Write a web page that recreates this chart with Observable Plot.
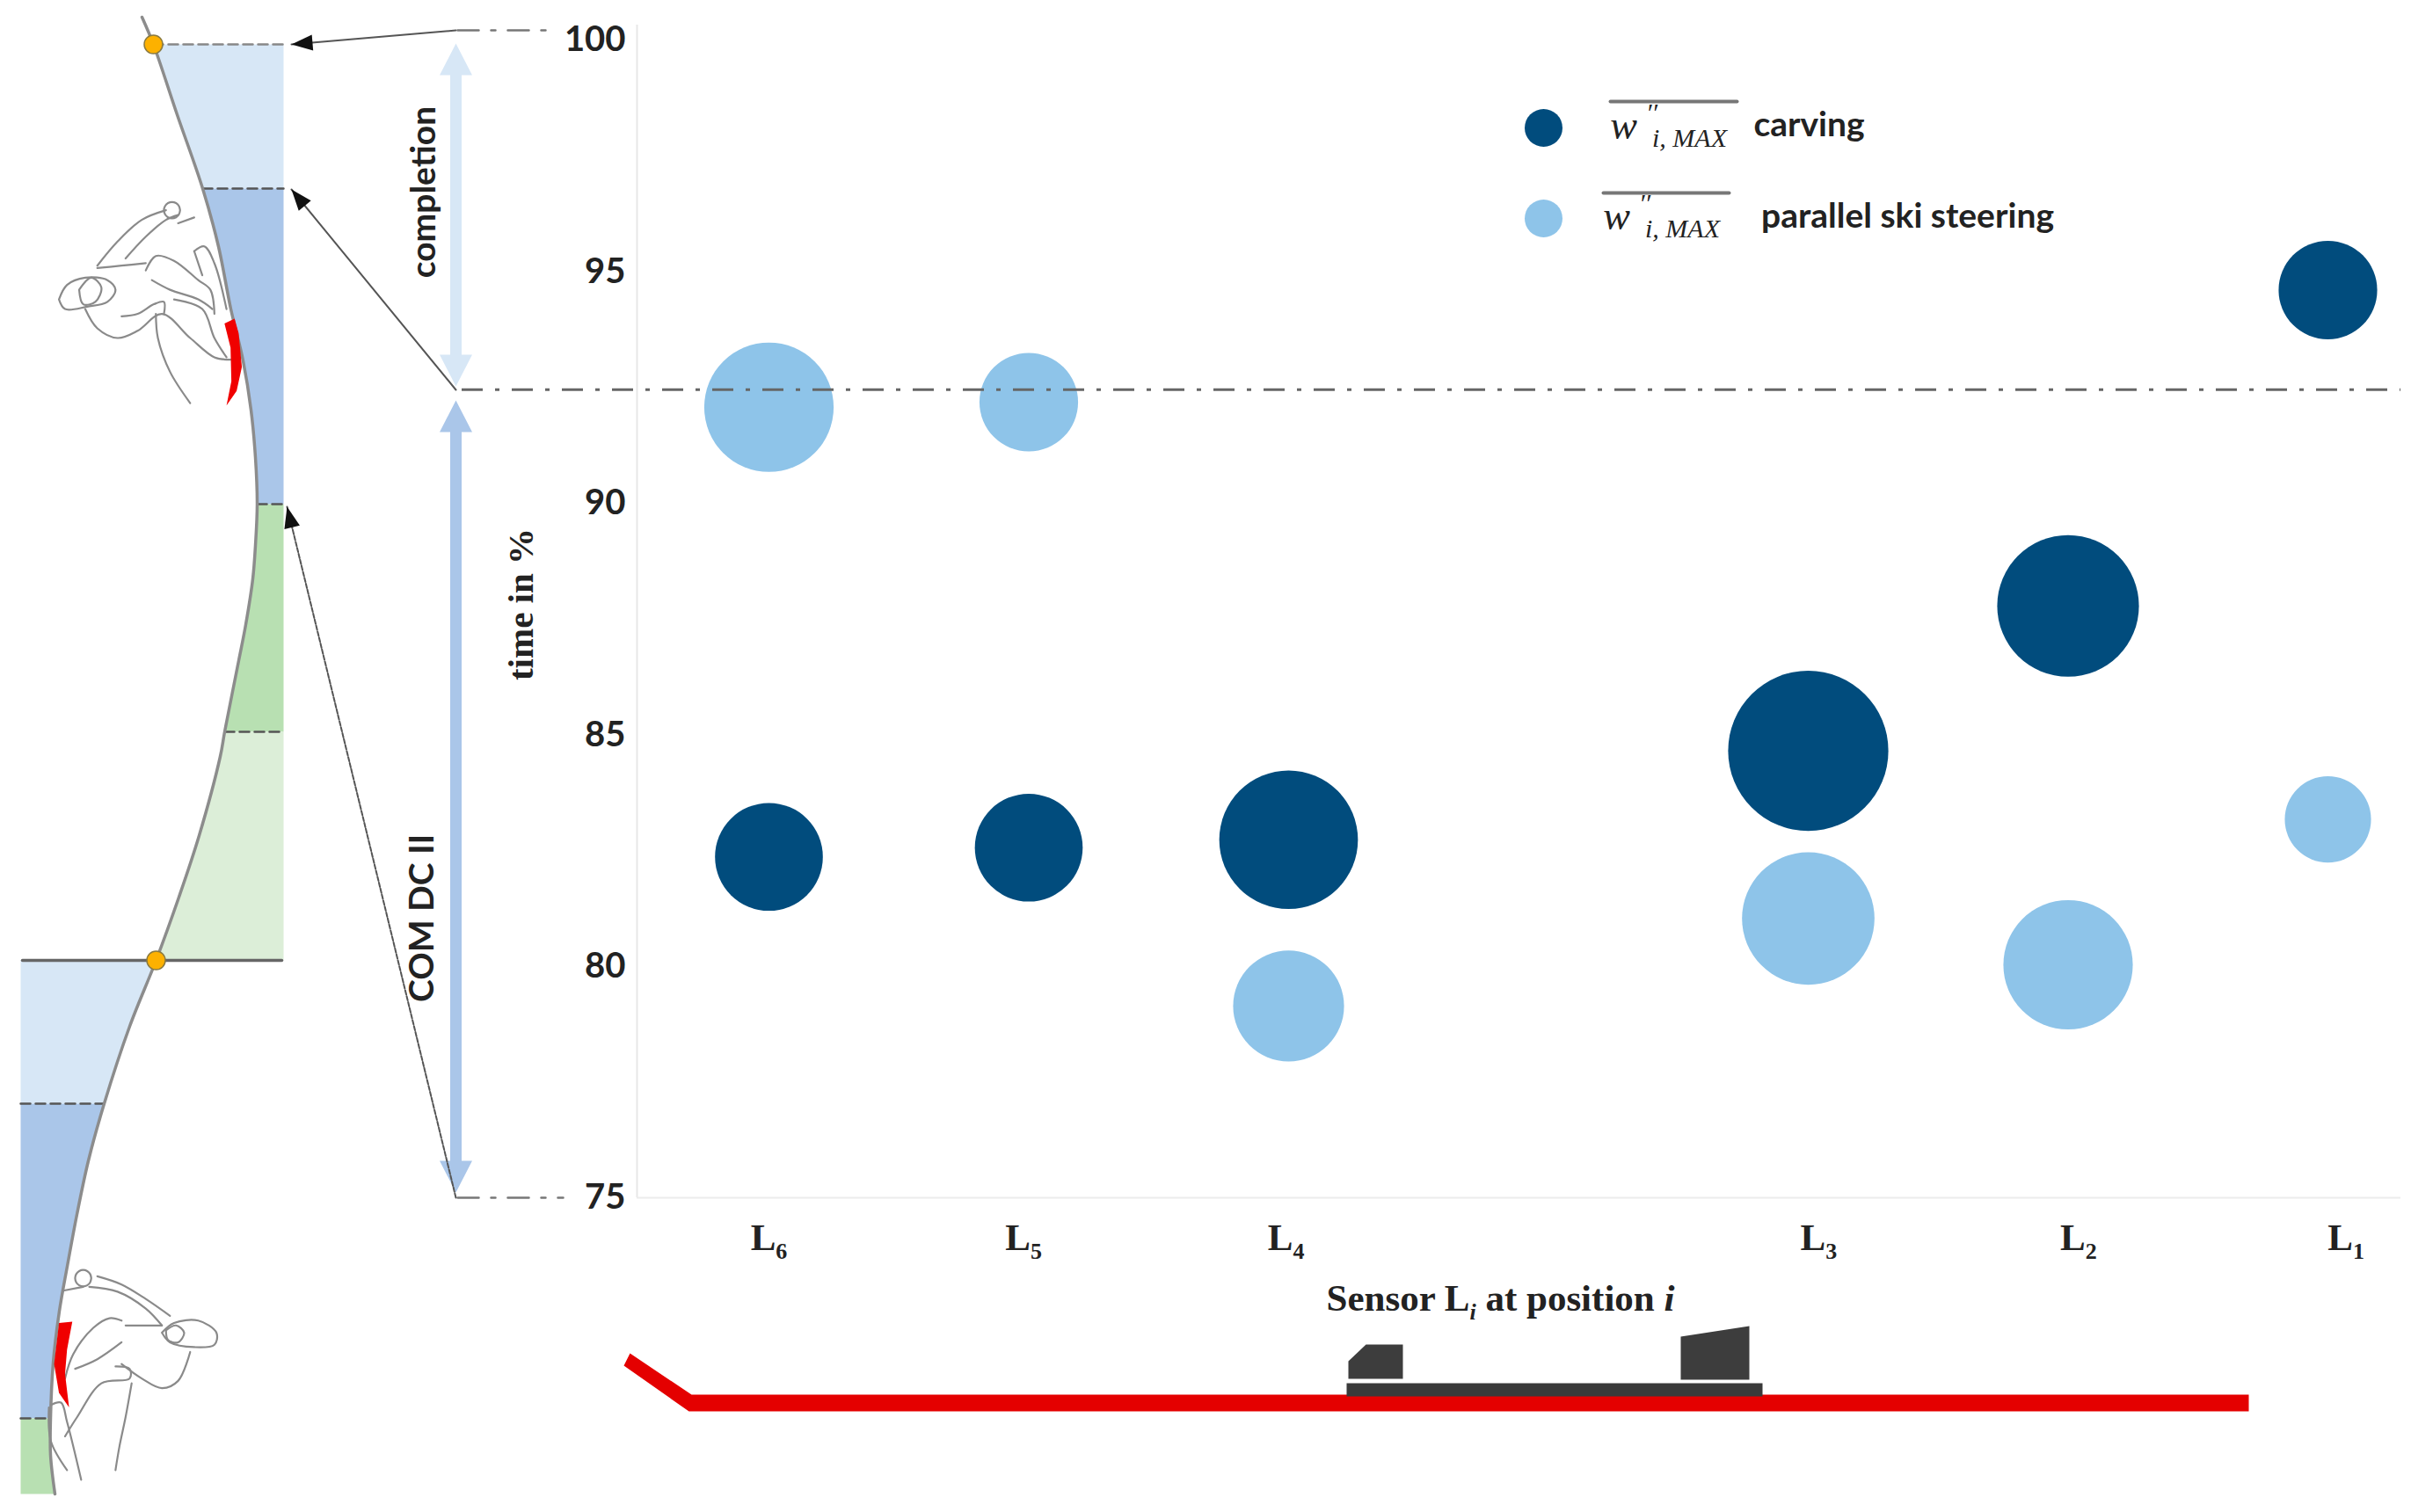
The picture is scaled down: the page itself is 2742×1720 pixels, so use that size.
<!DOCTYPE html>
<html><head><meta charset="utf-8">
<script src="https://cdn.jsdelivr.net/npm/d3@7"></script>
<script src="https://cdn.jsdelivr.net/npm/@observablehq/plot@0.6"></script>
<style>html,body{margin:0;background:#fff}svg{display:block;max-width:none!important}</style>
</head><body><div id="c"></div><script>
// --- chart data ---
const sensors = ["L_6","L_5","L_4","L_3","L_2","L_1"];
const sensorPos = [1,2,3,5,6,7];
const sensorLabelPos = [1,1.98,2.99,5.04,6.04,7.07];
const carvingTime = [82.36,82.56,82.73,84.65,87.78,94.6];
const carvingW = [35,35,45,52,46,32];
const steeringTime = [92.07,92.18,79.14,81.03,80.03,83.17];
const steeringW = [42,32,36,43,42,28];
const yTicks = [75,80,85,90,95,100];
const phaseBoundary = 92.45;
const DARK="#014c7d", LIGHT="#8ec4e9", INK="#222";
const SANS="Lato, Carlito, sans-serif", SERIF="'Liberation Serif', serif";

// frame constants, and their inverse for annotation sketches placed on the page
const xDom=[1,7], xRng=[874,2647], yDom=[75,100], yRng=[1362,45];
const invX=d3.scaleLinear().domain(xRng).range(xDom), invY=d3.scaleLinear().domain(yRng).range(yDom);
const P=([x,y])=>({x:invX(x),y:invY(y)});
const line=(pts,o={})=>Plot.line(pts.map(P),{x:"x",y:"y",stroke:"#888",strokeWidth:2.5,...o});
const poly=(pts,fill)=>Plot.line(pts.map(P),{x:"x",y:"y",fill,stroke:"none"});
const label=(t,x,y,o={})=>Plot.text([t],{x:invX(x),y:invY(y),text:d=>d,fill:INK,fontFamily:SANS,fontWeight:700,fontSize:39,...o});

// --- slope illustration (page pixels) ---
const slope=[[161,19],[174,50],[201,130],[230,214],[248,280],[262,351],[276,410],[285,466],[290,520],[292,573],[290,620],[287,658],[279,710],[271,751],[255,832],[250,860],[226,950],[203,1020],[177,1092],[147,1167],[118,1255],[100,1320],[87,1381],[76,1440],[67,1491],[60,1550],[57,1613],[57,1655],[62,1699]];
const seg=(a,b)=>slope.filter(p=>p[1]>=a&&p[1]<=b);
const band=(a,b,edge,fill)=>poly([...seg(a,b),[edge,b],[edge,a]],fill);
const bands=[[50,214,322,"#d7e7f6"],[214,573,322,"#aac6e9"],[573,832,322,"#b8e0b2"],[832,1092,322,"#dceed8"],[1092,1255,23,"#d7e7f6"],[1255,1613,23,"#aac6e9"],[1613,1699,23,"#b8e0b2"]];
const dashes=[[174,322,50,"#888"],[230,322,214,"#555"],[292,322,573,"#555"],[255,322,832,"#555"],[23,118,1255,"#555"],[23,57,1613,"#555"]];

const z1=(a)=>a.map(([x,y])=>[x/2.178,y/1.823]);
const z2=(a)=>a.map(([x,y])=>[x/2.178,860+y/1.823]);
const circ=(cx,cy,r)=>d3.range(0,13).map(i=>[cx+r*Math.cos(i*Math.PI/6),cy+r*.85*Math.sin(i*Math.PI/6)]);
const skierTop=[
 [[145,620],[165,590],[210,575],[265,580],[285,600],[265,625],[215,635],[160,640],[145,620]],
 [[195,600],[225,575],[250,595],[235,625],[205,630],[195,600]],
 [[240,550],[290,500],[350,455],[410,435]],[[310,535],[360,490],[410,455],[440,445]],
 circ(425,435,20),[[440,462],[480,450]],[[240,555],[300,550],[360,545]],
 [[360,560],[385,530],[430,540],[490,580],[520,600],[530,650]],
 [[480,520],[505,510],[530,545],[560,640]],[[480,520],[500,570]],
 [[210,640],[240,680],[290,700],[340,685],[400,650],[470,700],[530,740],[570,745]],
 [[385,650],[390,700],[420,770],[470,835]],[[300,655],[340,650],[380,630],[405,625],[405,650]],
 [[375,580],[420,600],[490,620],[525,640]],[[430,620],[500,640],[530,700],[560,740]]].map(z1);
const skierBottom=[
 [[400,1195],[430,1175],[490,1170],[535,1195],[530,1220],[480,1225],[420,1215],[400,1195]],
 [[410,1190],[435,1180],[455,1195],[440,1215],[415,1210],[410,1190]],
 [[240,1078],[300,1095],[360,1125],[420,1160]],[[220,1100],[290,1110],[360,1145],[400,1180]],
 circ(205,1082,20),[[155,1108],[205,1100]],
 [[300,1170],[270,1165],[230,1185],[180,1240],[160,1290]],
 [[470,1235],[440,1295],[400,1310],[350,1290],[300,1260]],[[400,1180],[310,1180]],
 [[325,1300],[310,1370],[295,1430],[285,1480]],[[285,1265],[320,1270],[320,1290],[250,1300],[190,1370],[160,1410]],
 [[300,1215],[240,1250],[185,1270]],[[125,1345],[150,1340],[165,1380],[200,1500]],[[120,1350],[125,1420],[165,1480]]].map(z2);
const skiTop=z1([[555,670],[580,660],[590,690],[598,760],[585,810],[560,840],[572,790],[570,720]]);
const skiBottom=z2([[145,1175],[178,1172],[165,1230],[160,1280],[170,1350],[145,1320],[133,1260]]);

// double arrows & leaders
const dbl=(x,y0,y1,fill,sw=6.5,hw=18.5,hl=36)=>poly([[x,y0],[x+hw,y0+hl],[x+sw,y0+hl],[x+sw,y1-hl],[x+hw,y1-hl],[x,y1],[x-hw,y1-hl],[x-sw,y1-hl],[x-sw,y0+hl],[x-hw,y0+hl]],fill);
const head=(from,to,l=24,w=9)=>{const dx=to[0]-from[0],dy=to[1]-from[1],n=Math.hypot(dx,dy),u=dx/n,v=dy/n;
  return poly([to,[to[0]-u*l-v*w,to[1]-v*l+u*w],[to[0]-u*l+v*w,to[1]-v*l-u*w]],"#111");};
const leaders=[[[518,34],[331,50]],[[518,443],[331,215]],[[518,1362],[326,576]]];
const dd="24,14,5,14";

// ski & binding
const ski=[[709,1553],[716,1539],[786,1586],[2557,1586],[2557,1605],[783,1605]];
const plate=[[1531,1573],[2004,1573],[2004,1588],[1531,1588]];
const toe=[[1533,1548],[1553,1529],[1595,1529],[1595,1568],[1533,1568]];
const heel=[[1911,1520],[1989,1508],[1989,1569],[1911,1569]];

const plot=Plot.plot({
 width:2742,height:1720,margin:0,marginLeft:724,
 style:{background:"#fff",fontFamily:SANS,overflow:"visible"},
 x:{domain:xDom,range:xRng,axis:null},
 y:{domain:yDom,range:yRng,axis:null},
 r:{type:"linear",domain:[0,100],range:[0,175.2]},
 marks:[
  ...bands.map(b=>band(...b)),
  ...dashes.map(([a,b,y,c])=>line([[a,y],[b,y]],{stroke:c,strokeWidth:2.5,strokeDasharray:"11,6"})),
  line([[25,1092],[320,1092]],{stroke:"#666",strokeWidth:3.5}),
  line(slope,{stroke:"#8c8c8c",strokeWidth:3.5,curve:"catmull-rom"}),
  ...[[174,50],[177,1092]].map(p=>Plot.dot([P(p)],{x:"x",y:"y",r:10.5,fill:"#fdb100",stroke:"#8a7a40",strokeWidth:1.5})),
  ...skierTop.concat(skierBottom).map(s=>line(s,{curve:"catmull-rom",stroke:"#8a8a8a",strokeWidth:2.2})),
  poly(skiTop,"#f00000"),poly(skiBottom,"#f00000"),

  // leaders and phase arrows
  dbl(518,49,439,"#d7e7f6"),dbl(518,455,1356,"#aac6e9"),
  line([[520,34],[625,34]],{stroke:"#777",strokeDasharray:dd}),
  line([[520,1362],[640,1362]],{stroke:"#777",strokeDasharray:dd}),
  ...leaders.map((l,i)=>line(l,{stroke:"#555",strokeWidth:2,strokeDasharray:i==2?"5,2":null})),
  ...leaders.map(l=>head(l[0],l[1])),
  label("completion",482,218,{rotate:-90}),
  label("COM DC II",480,1044,{rotate:-90}),
  label("time in %",592,687,{rotate:-90,fontFamily:SERIF,fontSize:41}),

  // frame
  Plot.ruleX([1],{x:invX(724),y1:75,y2:invY(28),stroke:"#e8e8e8",strokeWidth:2}),
  Plot.ruleY([75],{x1:invX(724),x2:invX(2730),stroke:"#ececec",strokeWidth:2}),
  Plot.axisY({ticks:yTicks,tickSize:0,tickPadding:13,label:null,fontSize:40,fontWeight:700,fontFamily:SANS,fill:INK}),

  // bubbles
  Plot.dot(sensorPos.map((x,i)=>({x,y:carvingTime[i],w:carvingW[i]})),{x:"x",y:"y",r:"w",fill:DARK}),
  Plot.dot(sensorPos.map((x,i)=>({x,y:steeringTime[i],w:steeringW[i]})),{x:"x",y:"y",r:"w",fill:LIGHT}),
  Plot.ruleY([phaseBoundary],{x1:invX(525),x2:invX(2730),stroke:"#666",strokeWidth:3,strokeDasharray:dd}),

  // sensor labels
  Plot.text(sensors,{x:(d,i)=>sensorLabelPos[i],y:invY(1408),text:d=>d,fontFamily:SERIF,fontWeight:700,fontSize:43,fill:INK}),
  label("Sensor L_i at position *i*",1706,1477,{fontFamily:SERIF,fontSize:43}),

  // ski
  poly(ski,"#e40000"),poly(plate,"#3a3a3a"),poly(toe,"#3d3d3d"),poly(heel,"#3d3d3d"),

  // legend
  Plot.dot([P([1755,145])],{x:"x",y:"y",r:21.5,fill:DARK}),
  Plot.dot([P([1755,248])],{x:"x",y:"y",r:21.5,fill:LIGHT}),
  line([[1831,115],[1975,115]],{stroke:"#777",strokeWidth:4}),
  line([[1823,219],[1966,219]],{stroke:"#777",strokeWidth:4}),
  ...[[1831,143,0],[1823,246,0]].flatMap(([x,y])=>[
    label("w",x+15,y,{fontFamily:SERIF,fontStyle:"italic",fontWeight:400,fontSize:46}),
    label("\u2032\u2032",x+47,y-15,{fontFamily:SERIF,fontStyle:"italic",fontWeight:400,fontSize:30}),
    label("i, MAX",x+90,y+14,{fontFamily:SERIF,fontStyle:"italic",fontWeight:400,fontSize:30})]),
  label("carving",2057,142),
  label("parallel ski steering",2169,246)
 ]});

// subscripts and italics as real text
plot.querySelectorAll("text").forEach(t=>{
 const s=t.textContent; if(!/_|\*/.test(s))return;
 t.textContent="";
 let shift=0;
 s.split(/(_\S|\*\S\*)/).filter(Boolean).forEach(p=>{
  const n=document.createElementNS("http://www.w3.org/2000/svg","tspan");
  let dy=-shift; shift=0;
  if(p[0]=="_"){n.textContent=p[1];n.setAttribute("font-size","26");shift=10;dy+=10;
    if(/[a-z]/.test(p[1]))n.setAttribute("font-style","italic");}
  else if(p[0]=="*"){n.textContent=p[1];n.setAttribute("font-style","italic");}
  else n.textContent=p;
  if(dy)n.setAttribute("dy",dy);
  t.appendChild(n);
 });
});
document.getElementById("c").appendChild(plot);
</script></body></html>
